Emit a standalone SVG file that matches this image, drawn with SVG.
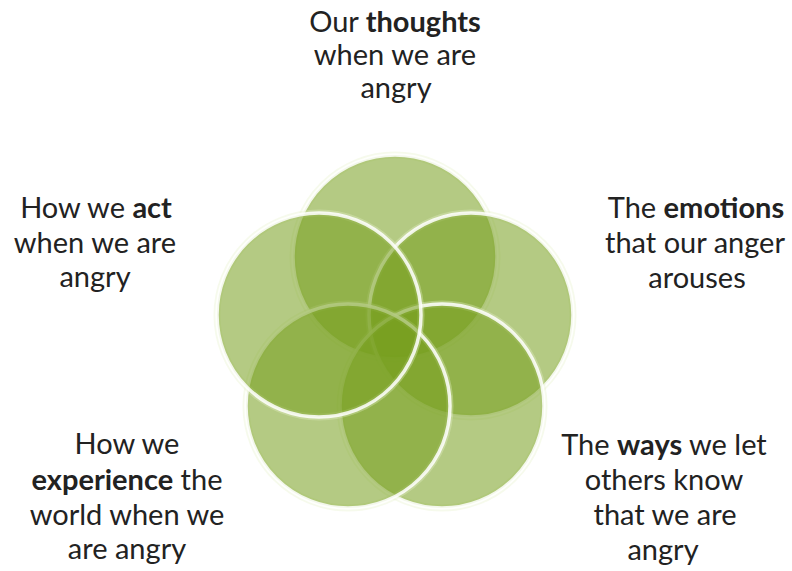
<svg xmlns="http://www.w3.org/2000/svg" width="792" height="571" viewBox="0 0 792 571">
<style>
.c{fill:#769e1e;fill-opacity:0.55;stroke:#ffffff;stroke-width:3.5;stroke-opacity:0.85}
.h{fill:none;stroke:#e4f0c8;stroke-width:7;stroke-opacity:0.35}
text{font-family:Lato,"Liberation Sans",sans-serif;font-size:29px;fill:#222222;text-anchor:middle}
.b{font-weight:bold}
</style>
<rect width="792" height="571" fill="#ffffff"/>
<g id="circles">
<g id="c-top"><circle class="h" cx="395" cy="257" r="102"/><circle class="c" cx="395" cy="257" r="102"/></g>
<g id="c-right"><circle class="h" cx="471" cy="315" r="102"/><circle class="c" cx="471" cy="315" r="102"/></g>
<g id="c-lowright"><circle class="h" cx="442" cy="406" r="102"/><circle class="c" cx="442" cy="406" r="102"/></g>
<g id="c-lowleft"><circle class="h" cx="348" cy="406" r="102"/><circle class="c" cx="348" cy="406" r="102"/></g>
<g id="c-left"><circle class="h" cx="319" cy="315" r="102"/><circle class="c" cx="319" cy="315" r="102"/></g>
</g>
<g id="label-thoughts">
<text x="395" y="32">Our <tspan class="b">thoughts</tspan></text>
<text x="395" y="65">when we are</text>
<text x="396" y="98">angry</text>
</g>
<g id="label-act">
<text x="96" y="218">How we <tspan class="b">act</tspan></text>
<text x="95" y="253">when we are</text>
<text x="95" y="287">angry</text>
</g>
<g id="label-emotions">
<text x="696" y="218">The <tspan class="b">emotions</tspan></text>
<text x="695" y="253">that our anger</text>
<text x="697" y="288">arouses</text>
</g>
<g id="label-experience">
<text x="127" y="454">How we</text>
<text x="127" y="490"><tspan class="b">experience</tspan> the</text>
<text x="127" y="525">world when we</text>
<text x="127" y="559">are angry</text>
</g>
<g id="label-ways">
<text x="664" y="455">The <tspan class="b">ways</tspan> we let</text>
<text x="664" y="490">others know</text>
<text x="665" y="525">that we are</text>
<text x="663" y="560">angry</text>
</g>
</svg>
